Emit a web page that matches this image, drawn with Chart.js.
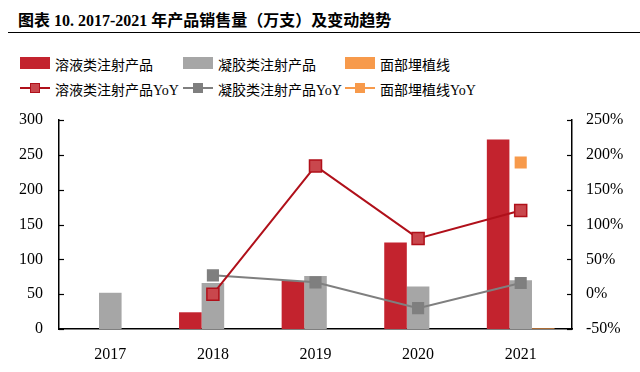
<!DOCTYPE html>
<html>
<head>
<meta charset="utf-8">
<script src="https://cdn.jsdelivr.net/npm/chart.js@4/dist/chart.umd.min.js"></script>
<style>
  body { margin: 0; background: #fff; }
  #wrap { position: relative; width: 640px; height: 372px; overflow: hidden; }
  #title { position: absolute; left: 18px; top: 7px; font: bold 16px "Liberation Serif", "Noto Sans CJK SC", serif; color: #000; white-space: nowrap; }
  #rule { position: absolute; left: 8px; top: 32px; width: 632px; height: 0; border-top: 1.5px solid #000; }
  .lg { position: absolute; font: 14px "Liberation Serif", "Noto Sans CJK SC", serif; color: #000; white-space: nowrap; }
  .sw { position: absolute; }
  canvas { position: absolute; left: 0; top: 0; }
</style>
</head>
<body>
<div id="wrap">
  <div id="title">图表 10. 2017-2021 年产品销售量（万支）及变动趋势</div>
  <div id="rule"></div>
  <div id="legend"></div>
  <canvas id="chart" width="640" height="372"></canvas>
</div>
<script>
// Catégories et séries
var years = ["2017", "2018", "2019", "2020", "2021"];
var seriesNames = ["溶液类注射产品", "凝胶类注射产品", "面部埋植线"];
var solution = [null, 24, 69, 124, 272];
var gel = [52, 66, 76, 61, 70];
var thread = [null, null, null, null, 1];
var solutionYoY = [null, 0, 184, 80, 120];
var gelYoY = [null, 27, 17, -20, 16];
var threadYoY = [null, null, null, null, 189];
var leftTicks = [0, 50, 100, 150, 200, 250, 300];
var rightTicks = [-50, 0, 50, 100, 150, 200, 250];

var barColors = ["#c3232e", "#a6a6a6", "#f79a4b"];
var lineColors = ["#b0101a", "#7f7f7f", "#f79a4b"];
var markerFill = ["#c9474d", "#7f7f7f", "#f79a4b"];

// legende en HTML, 3 colonnes
var legend = document.getElementById('legend');
var colX = [20, 183, 345];
seriesNames.forEach(function (name, i) {
    var sw = document.createElement('div');
    sw.className = 'sw';
    sw.style.cssText = 'left:' + colX[i] + 'px;top:57px;width:30px;height:12px;background:' + barColors[i];
    legend.appendChild(sw);
    var t = document.createElement('div');
    t.className = 'lg';
    t.style.cssText = 'left:' + (colX[i] + 35) + 'px;top:54px';
    t.textContent = name;
    legend.appendChild(t);

    var ln = document.createElement('div');
    ln.className = 'sw';
    ln.style.cssText = 'left:' + colX[i] + 'px;top:87px;width:30px;height:2px;background:' + lineColors[i];
    legend.appendChild(ln);
    var mk = document.createElement('div');
    mk.className = 'sw';
    mk.style.cssText = 'left:' + (colX[i] + 10) + 'px;top:83px;width:10px;height:10px;box-sizing:border-box;background:' + markerFill[i] + ';border:1px solid ' + lineColors[i];
    legend.appendChild(mk);
    var t2 = document.createElement('div');
    t2.className = 'lg';
    t2.style.cssText = 'left:' + (colX[i] + 35) + 'px;top:79px';
    t2.textContent = name + 'YoY';
    legend.appendChild(t2);
});

// petits traits de graduation vers l'intérieur
var innerTicks = {
    id: 'innerTicks',
    afterDraw: function (chart) {
        var ctx = chart.ctx;
        var y = chart.scales.y, y1 = chart.scales.y1;
        ctx.save();
        ctx.strokeStyle = '#000';
        ctx.lineWidth = 1.2;
        leftTicks.forEach(function (v) {
            var p = Math.round(y.getPixelForValue(v)) + 0.5;
            ctx.beginPath(); ctx.moveTo(y.right, p); ctx.lineTo(y.right + 5, p); ctx.stroke();
        });
        rightTicks.forEach(function (v) {
            var p = Math.round(y1.getPixelForValue(v)) + 0.5;
            ctx.beginPath(); ctx.moveTo(y1.left - 5, p); ctx.lineTo(y1.left, p); ctx.stroke();
        });
        ctx.restore();
    }
};

var tickFont = { family: "'Liberation Serif', serif", size: 16 };

function lineSet(label, data, i, r) {
    return {
        type: 'line', label: label, data: data, yAxisID: 'y1',
        borderColor: lineColors[i], borderWidth: 2,
        pointStyle: 'rect', pointRadius: r, pointHoverRadius: r,
        pointBackgroundColor: markerFill[i], pointBorderColor: lineColors[i], pointBorderWidth: 1.5,
        spanGaps: false, order: 0
    };
}

var ctx = document.getElementById('chart').getContext('2d');
new Chart(ctx, {
    type: 'bar',
    data: {
        labels: years,
        datasets: [
            { label: seriesNames[0], data: solution, backgroundColor: barColors[0], order: 1 },
            { label: seriesNames[1], data: gel, backgroundColor: barColors[1], order: 1 },
            { label: seriesNames[2], data: thread, backgroundColor: barColors[2], order: 1 },
            lineSet(seriesNames[0] + 'YoY', solutionYoY, 0, 8.5),
            lineSet(seriesNames[1] + 'YoY', gelYoY, 1, 7.5),
            lineSet(seriesNames[2] + 'YoY', threadYoY, 2, 7.5)
        ]
    },
    options: {
        responsive: false,
        animation: false,
        layout: { padding: { top: 120, left: 0, right: 0, bottom: 0 } },
        datasets: { bar: { barPercentage: 1, categoryPercentage: 0.66 } },
        plugins: { legend: { display: false }, tooltip: { enabled: false } },
        scales: {
            x: {
                grid: { display: false },
                border: { display: true, color: '#000', width: 1.5 },
                ticks: { color: '#000', font: tickFont, padding: 8 },
                afterFit: function (s) { s.height = 43; }
            },
            y: {
                position: 'left', min: 0, max: 300,
                grid: { display: false },
                border: { display: true, color: '#000', width: 1.5 },
                ticks: { color: '#000', font: tickFont, stepSize: 50, padding: 8 },
                afterFit: function (s) { s.width = 59; }
            },
            y1: {
                position: 'right', min: -50, max: 250,
                grid: { display: false },
                border: { display: true, color: '#000', width: 1.5 },
                ticks: { color: '#000', font: tickFont, stepSize: 50, padding: 6,
                    callback: function (v) { return v + '%'; } },
                afterFit: function (s) { s.width = 68; }
            }
        }
    },
    plugins: [innerTicks]
});
</script>
</body>
</html>
